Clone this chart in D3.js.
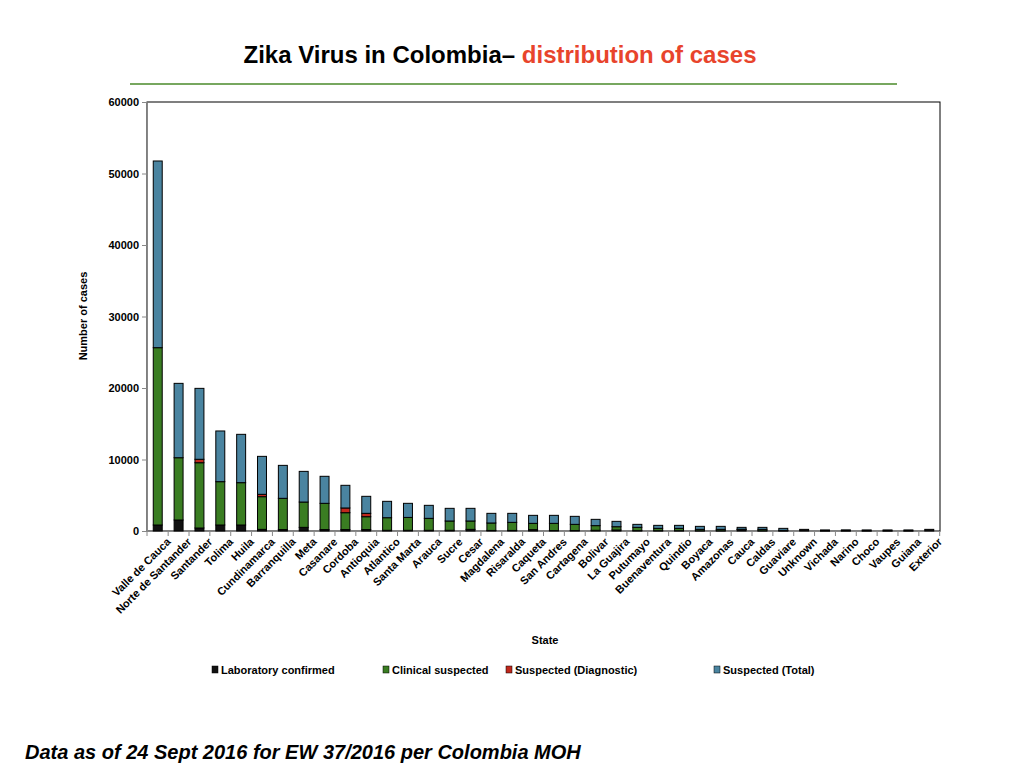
<!DOCTYPE html>
<html><head><meta charset="utf-8">
<script src="https://cdn.jsdelivr.net/npm/d3@7"></script>
<style>body{margin:0;background:#fff;font-family:"Liberation Sans",Arial,sans-serif}</style>
</head><body><svg id="c" width="1024" height="768"></svg>
<script>
const states=["Valle de Cauca","Norte de Santander","Santander","Tolima","Huila","Cundinamarca","Barranquilla","Meta","Casanare","Cordoba","Antioquia","Atlantico","Santa Marta","Arauca","Sucre","Cesar","Magdalena","Risaralda","Caqueta","San Andres","Cartagena","Bolivar","La Guajira","Putumayo","Buenaventura","Quindio","Boyaca","Amazonas","Cauca","Caldas","Guaviare","Unknown","Vichada","Narino","Choco","Vaupes","Guiana","Exterior"];
const labConfirmed=[840,1540,420,840,840,230,200,510,200,200,200,100,100,100,100,230,80,80,190,60,60,100,140,50,40,40,30,30,200,30,20,230,10,20,10,10,10,230];
const clinicalSuspected=[24800,8710,9130,6060,5920,4570,4370,3540,3670,2360,1800,1760,1800,1670,1300,1170,1040,1130,880,1010,870,650,460,460,330,330,200,200,50,200,70,0,0,0,0,0,0,0];
const suspectedDiagnostic=[0,0,480,0,0,330,0,0,0,660,470,0,0,0,0,0,0,0,0,0,0,0,0,0,0,0,0,0,0,0,0,0,0,0,0,0,0,0];
const suspectedTotal=[26110,10400,9920,7090,6760,5310,4610,4290,3780,3170,2380,2290,1970,1820,1770,1770,1350,1260,1120,1120,1120,880,750,420,420,420,420,420,260,280,280,0,140,140,140,140,140,0];
const yTicks=[0,10000,20000,30000,40000,50000,60000];
const seriesNames=["Laboratory confirmed","Clinical suspected","Suspected (Diagnostic)","Suspected (Total)"];
const colors=["#111111","#3a7d22","#c0281c","#4a84a0"];

const svg=d3.select("#c");
const L=147,R=940,T=102,B=531;
const x=d3.scaleBand().domain(states).range([L,R]).paddingInner(0.57).paddingOuter(0.3);
const y=d3.scaleLinear().domain([0,60000]).range([B,T]);

const t=svg.append("text").attr("x",500).attr("y",63).attr("text-anchor","middle").attr("font-weight","bold").attr("font-size",24);
t.append("tspan").attr("fill","#000").text("Zika Virus in Colombia– ");
t.append("tspan").attr("fill","#e8442c").text(" distribution of cases");
svg.append("line").attr("x1",130).attr("x2",897).attr("y1",84).attr("y2",84).attr("stroke","#4a8a2a").attr("stroke-width",1.5);

svg.append("rect").attr("x",L).attr("y",T).attr("width",R-L).attr("height",B-T).attr("fill","none").attr("stroke","#000").attr("stroke-width",1);

const ya=svg.append("g").attr("transform",`translate(${L},0)`).call(d3.axisLeft(y).tickValues(yTicks).tickSize(5).tickFormat(d3.format("d")));
ya.select(".domain").attr("stroke","#888");
ya.selectAll(".tick line").attr("stroke","#888");
ya.selectAll("text").attr("font-weight","bold").attr("font-size",11).attr("font-family","Liberation Sans, Arial");

const xa=svg.append("g").attr("transform",`translate(0,${B})`).call(d3.axisBottom(x).tickSize(5).tickSizeOuter(0));
xa.select(".domain").attr("stroke","#888");
const step=x.step();
xa.selectAll(".tick line").attr("stroke","#888").attr("transform",`translate(${step/2},0)`);
xa.selectAll("text").attr("font-weight","bold").attr("font-size",11).attr("font-family","Liberation Sans, Arial")
  .attr("text-anchor","end").attr("transform","translate(4,2) rotate(-45)").attr("dy","0.5em").attr("dx","0");
svg.append("line").attr("x1",L).attr("x2",L).attr("y1",B).attr("y2",B+5).attr("stroke","#888");

const rows=states.map((s,i)=>({state:s,v:[labConfirmed[i],clinicalSuspected[i],suspectedDiagnostic[i],suspectedTotal[i]]}));
const stack=d3.stack().keys([0,1,2,3]).value((d,k)=>d.v[k])(rows);
stack.forEach((layer,k)=>{
  svg.append("g").selectAll("rect").data(layer.filter(d=>d[1]-d[0]>0)).join("rect")
   .attr("x",d=>x(d.data.state)).attr("width",x.bandwidth())
   .attr("y",d=>y(d[1])).attr("height",d=>y(d[0])-y(d[1]))
   .attr("fill",colors[k]).attr("stroke","#000").attr("stroke-width",1);
});

svg.append("text").attr("transform","translate(87,316) rotate(-90)").attr("text-anchor","middle").attr("font-weight","bold").attr("font-size",11).text("Number of cases");
svg.append("text").attr("x",545).attr("y",644).attr("text-anchor","middle").attr("font-weight","bold").attr("font-size",11).text("State");

const lx=[212,383,506,714];
seriesNames.forEach((n,i)=>{
  svg.append("rect").attr("x",lx[i]).attr("y",666).attr("width",6).attr("height",7).attr("fill",colors[i]).attr("stroke","#000").attr("stroke-width",0.5);
  svg.append("text").attr("x",lx[i]+9).attr("y",674).attr("font-weight","bold").attr("font-size",11).text(n);
});
svg.append("text").attr("x",25).attr("y",759).attr("font-weight","bold").attr("font-style","italic").attr("font-size",20).text("Data as of 24 Sept 2016 for EW 37/2016 per Colombia MOH");
</script></body></html>
